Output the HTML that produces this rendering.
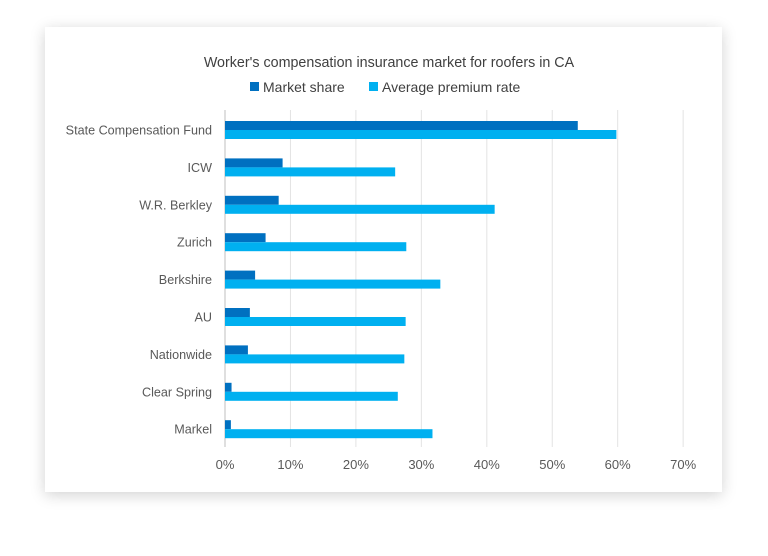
<!DOCTYPE html>
<html><head><meta charset="utf-8"><style>
body{margin:0;width:768px;height:556px;background:#fff;font-family:"Liberation Sans",sans-serif;overflow:hidden}
#card{position:absolute;left:45px;top:27px;width:677px;height:465px;background:#fff;box-shadow:0 3px 14px rgba(0,0,0,0.18)}
svg{position:absolute;left:0;top:0}
</style></head><body>
<div id="card"></div>
<svg id="chart" width="768" height="556">
<text x="389" y="67" text-anchor="middle" font-size="14.3" fill="#404040">Worker's compensation insurance market for roofers in CA</text>
<g>
<rect x="250" y="82" width="9" height="9" fill="#0070c0"/>
<text x="263" y="92" font-size="14" fill="#404040">Market share</text>
<rect x="369" y="82" width="9" height="9" fill="#00b0f0"/>
<text x="382" y="92" font-size="14" fill="#404040">Average premium rate</text>
</g>
<g id="grid"></g><g id="bars"></g><g id="labels"></g>
</svg>
<script>
const categories=["State Compensation Fund","ICW","W.R. Berkley","Zurich","Berkshire","AU","Nationwide","Clear Spring","Markel"];
const marketShare=[53.9,8.8,8.2,6.2,4.6,3.8,3.5,1.0,0.9];
const premiumRate=[59.8,26.0,41.2,27.7,32.9,27.6,27.4,26.4,31.7];
const ticks=[0,10,20,30,40,50,60,70];
const ns="http://www.w3.org/2000/svg";
const x=v=>225+v*6.545;
const rowY=i=>130+i*37.4;
function mk(t,a,p){const e=document.createElementNS(ns,t);for(const k in a)e.setAttribute(k,a[k]);p.appendChild(e);return e;}
const g=document.getElementById('grid'),b=document.getElementById('bars'),l=document.getElementById('labels');
ticks.forEach(t=>{
 const ln=mk('line',{x1:x(t),x2:x(t),y1:110,y2:447,stroke:t===0?'#bfbfbf':'#e3e3e3','stroke-width':1},g);
 
 
 const tx=mk('text',{x:x(t),y:469,'text-anchor':'middle','font-size':13,fill:'#595959'},l);
 tx.textContent=t+'%';
 
 
});
categories.forEach((c,i)=>{
 const y=rowY(i);
 const r1=mk('rect',{x:x(0),y:y-9,width:x(marketShare[i])-x(0),height:9,fill:'#0070c0'},b);
 
 
 const r2=mk('rect',{x:x(0),y:y,width:x(premiumRate[i])-x(0),height:9,fill:'#00b0f0'},b);
 
 
 const tx=mk('text',{x:212,y:y+4.5,'text-anchor':'end','font-size':12.6,fill:'#595959'},l);
 tx.textContent=c;
 
 
});
</script>
</body></html>
